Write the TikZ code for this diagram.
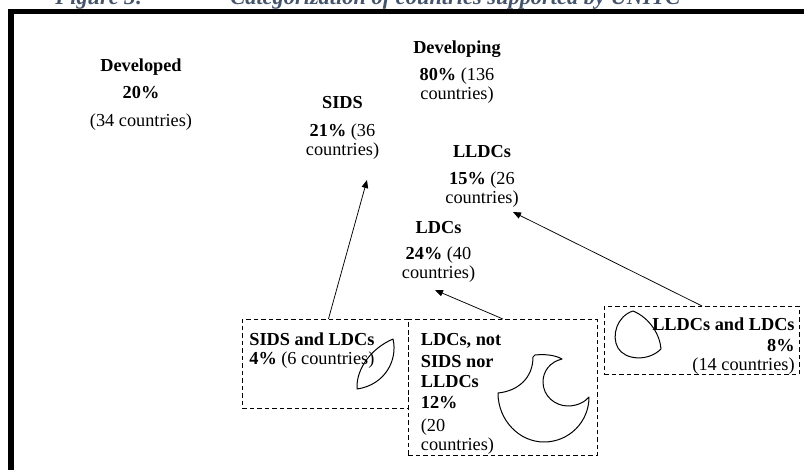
\documentclass[tikz,border=0pt]{standalone}
\usepackage{fontspec}
\setmainfont{Liberation Serif}
\usepackage{tikz}
\usetikzlibrary{arrows.meta,positioning,calc}
\definecolor{titleblue}{RGB}{68,84,106}
\newcommand{\bodysize}{\fontsize{18.3}{19}\selectfont}

\begin{document}
\begin{tikzpicture}[x=1pt, y=-1pt, >={Triangle[length=8pt,width=6.5pt]}, line width=0.75pt]
\tikzstyle{lbl}=[inner sep=0pt, font=\bodysize, align=center, anchor=north]
\tikzstyle{boxtxt}=[inner sep=0pt, font=\bodysize]
\tikzstyle{dbox}=[draw, line width=0.9pt, dash pattern=on 4.5pt off 3pt, inner sep=0pt, anchor=north west]
\tikzstyle{blob}=[line width=1pt, line join=round]
\tikzstyle{caption}=[inner sep=0pt, anchor=base west, text=titleblue, font=\fontsize{22.4}{24}\selectfont\bfseries\itshape]
\useasboundingbox (0,0) rectangle (804,470);
\clip (0,0) rectangle (804,470);

\node[caption] (fignum)   at (55,4.5)  {Figure 3:};
\node[caption] (figtitle) at (230,4.5) {Categorization of countries supported by UNITC};
\draw[line width=5.5pt] (11,480) -- (11,11.5) -- (815,11.5);

\node[lbl] (developed)  at (141,58)    {\textbf{Developed}\\[8.5pt]\textbf{20\%}\\[8.5pt](34 countries)};
\node[lbl] (developing) at (457,40)    {\textbf{Developing}\\[8.5pt]\textbf{80\%} (136\\countries)};
\node[lbl] (sids)       at (342.5,96)  {\textbf{SIDS}\\[9pt]\textbf{21\%} (36\\countries)};
\node[lbl] (lldcs)      at (482,145)   {\textbf{LLDCs}\\[8pt]\textbf{15\%} (26\\countries)};
\node[lbl] (ldcs)       at (438.5,221) {\textbf{LDCs}\\[7.5pt]\textbf{24\%} (40\\countries)};

\node[dbox, minimum width=166pt, minimum height=89pt]  (sidsldcs)  at (242,319) {};
\node[dbox, minimum width=189pt, minimum height=136pt] (ldcsonly)  at (408,319) {};
\node[dbox, minimum width=195pt, minimum height=68pt]  (lldcsldcs) at (604,306) {};

\node[boxtxt, anchor=north west, align=left]  (sidsldcstxt)  at (249,332)   {\textbf{SIDS and LDCs}\\\textbf{4\%} (6 countries)};
\node[boxtxt, anchor=north west, align=left]  (ldcsonlytxt)  at (420.5,333) {\textbf{LDCs, not}\\[3pt]\textbf{SIDS nor}\\[1pt]\textbf{LLDCs}\\[2pt]\textbf{12\%}\\[4pt](20\\countries)};
\node[boxtxt, anchor=north east, align=right] (lldcsldcstxt) at (795,317)   {\textbf{LLDCs and LDCs}\\[2.4pt]\textbf{8\%}\\(14 countries)};

\coordinate (sidstip)  at (367,180);
\coordinate (lldcstip) at (513,212);
\coordinate (ldcstip)  at (435,290);
\draw[->] ([xshift=3pt]sidsldcs.north) -- (sidstip);
\draw[->] (ldcsonly.north) -- (ldcstip);
\draw[->] (lldcsldcs.north) -- (lldcstip);

\draw[blob] (393,339) .. controls (372,348) and (356,368) .. (357,389)
  .. controls (385,385) and (398,360) .. cycle;
\draw[blob] (498,393) .. controls (518,391) and (533,378) .. (533,357) -- (535,355)
  .. controls (545,354) and (555,355) .. (562,359)
  .. controls (550,362) and (543,371) .. (543,382)
  .. controls (543,396) and (555,406) .. (568,406)
  .. controls (577,406) and (585,402) .. (589,397)
  .. controls (589,422) and (569,442) .. (544,442)
  .. controls (519,442) and (498,420) .. cycle;
\draw[blob] (633,311) .. controls (617,316) and (611,336) .. (618,348)
  .. controls (625,360) and (648,362) .. (661,349)
  .. controls (660,335) and (650,318) .. cycle;
\end{tikzpicture}
\end{document}
